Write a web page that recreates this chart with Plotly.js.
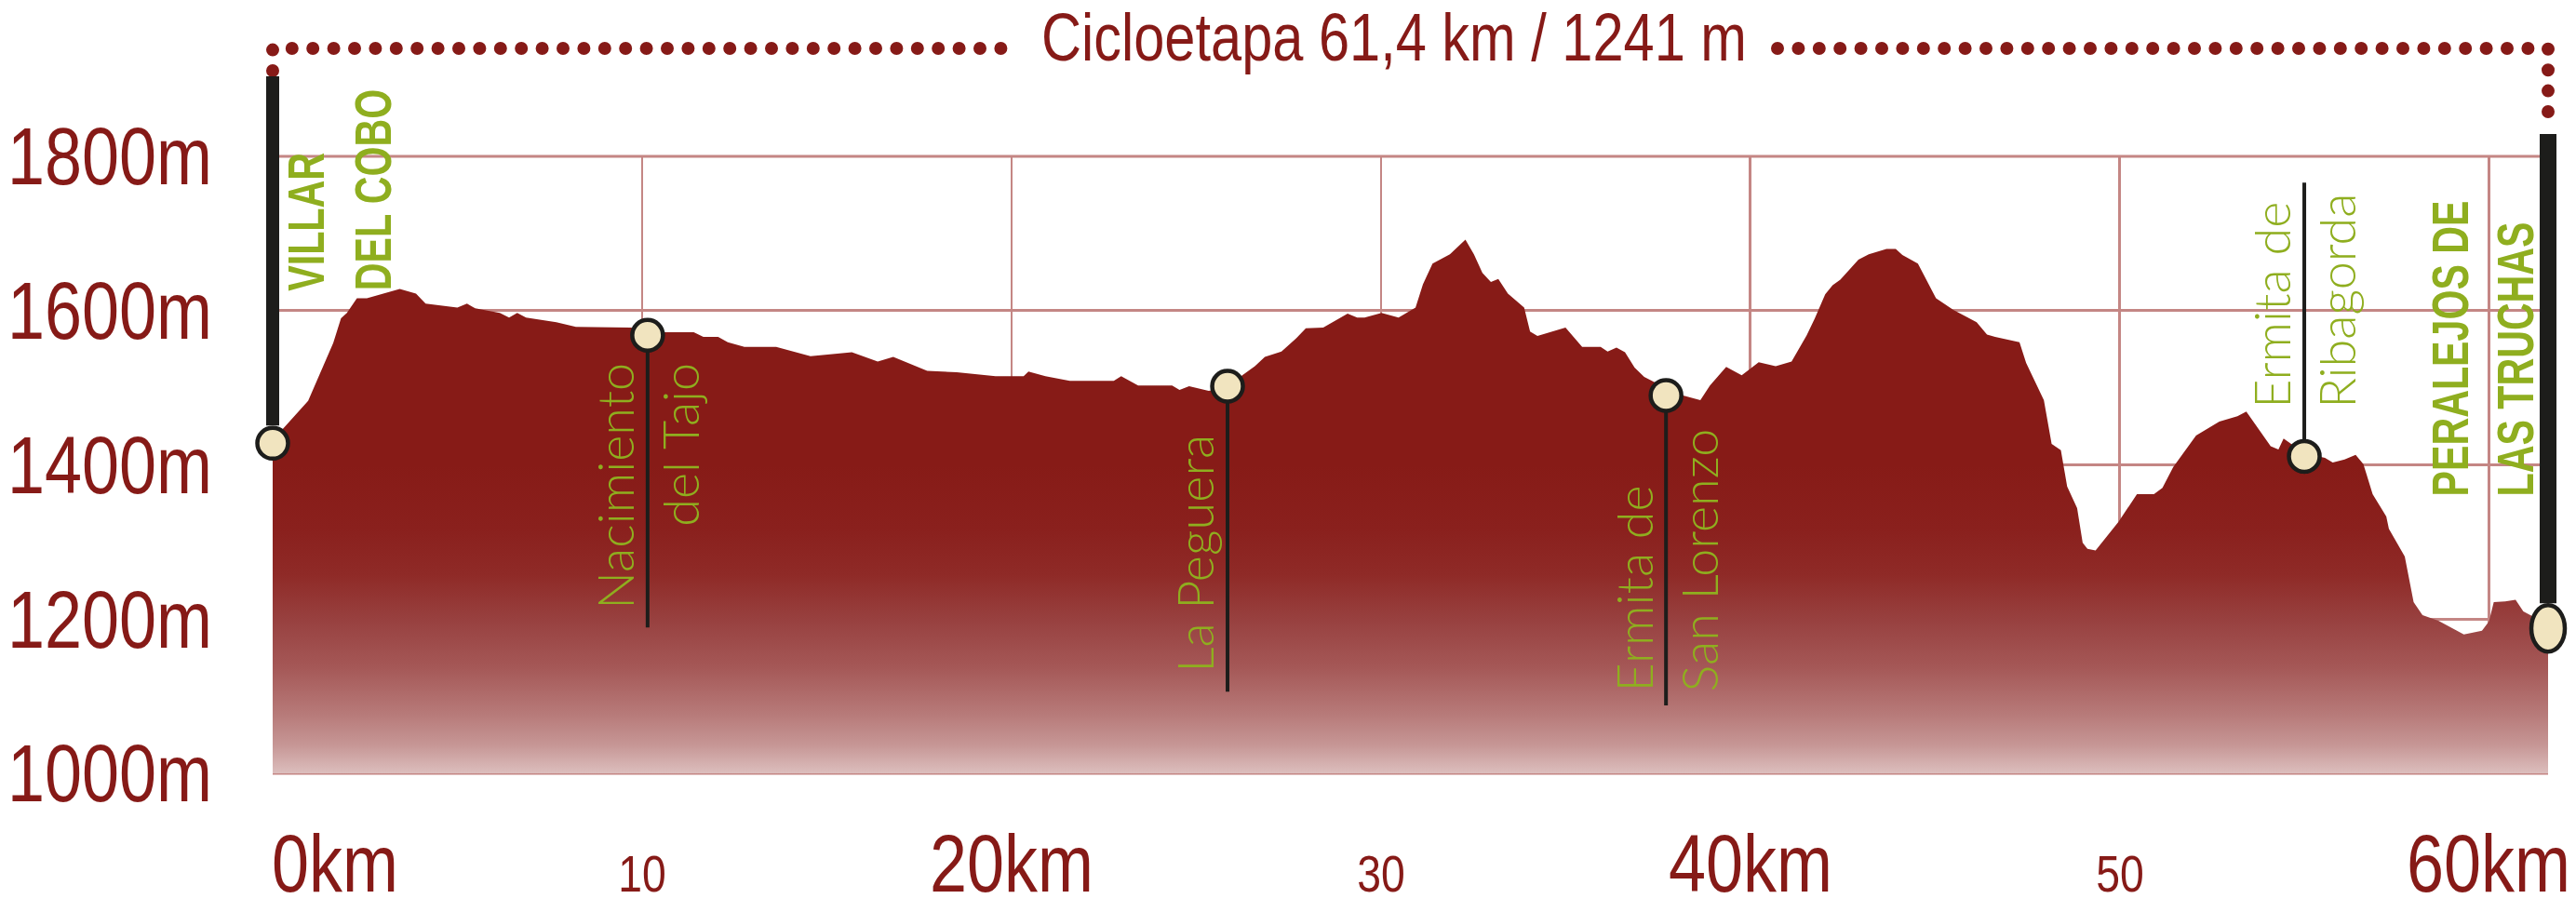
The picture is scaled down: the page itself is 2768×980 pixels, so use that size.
<!DOCTYPE html>
<html>
<head>
<meta charset="utf-8">
<script src="https://cdn.plot.ly/plotly-3.0.1.min.js"></script>
<style>
  html, body { margin: 0; padding: 0; background: #ffffff; }
  #chart { width: 2768px; height: 980px; }
</style>
</head>
<body>
<div id="chart"></div>
<script>
// ---------------- DATA ----------------
const distanceKm = [
  0, 0.96, 1.64, 1.85, 2.01, 2.28, 2.55, 3.44, 3.88, 4.14,
  5.0, 5.26, 5.48, 6.15, 6.4, 6.62, 6.86, 7.68, 8.21, 9.69,
  10.61, 11.4, 11.66, 12.06, 12.32, 12.77, 13.63, 14.56, 15.68, 16.38,
  16.8, 17.72, 18.52, 19.57, 20.33, 20.46, 20.92, 21.58, 22.77, 22.97,
  23.43, 24.35, 24.55, 24.81, 25.34, 25.85, 26.25, 26.59, 26.86, 27.31,
  27.71, 27.97, 28.44, 29.1, 29.36, 29.56, 30.02, 30.48, 30.94, 31.14,
  31.4, 31.87, 32.29, 32.52, 32.75, 32.98, 33.18, 33.44, 33.88, 34.04,
  34.24, 35.0, 35.45, 35.95, 36.14, 36.38, 36.61, 36.87, 37.13, 37.46,
  37.72, 38.19, 38.65, 38.91, 39.35, 39.77, 40.23, 40.69, 41.12, 41.53,
  41.75, 42.03, 42.23, 42.44, 42.93, 43.21, 43.69, 43.94, 44.12, 44.54,
  44.75, 45.03, 45.5, 46.13, 46.41, 46.63, 47.29, 47.47, 47.95, 48.16,
  48.41, 48.58, 48.85, 49.0, 49.13, 49.35, 49.97, 50.47, 50.93, 51.16,
  51.45, 51.79, 52.07, 52.7, 53.19, 53.43, 53.88, 54.09, 54.3, 54.44,
  55.0, 55.56, 55.77, 56.09, 56.39, 56.6, 56.85, 57.22, 57.29, 57.72,
  57.96, 58.2, 58.63, 59.32, 59.81, 60.0, 60.13, 60.44, 60.72, 60.93,
  61.12, 61.6
];
const elevationM = [
  1432, 1483, 1558, 1590, 1597, 1616, 1616, 1628, 1622, 1609,
  1604, 1609, 1603, 1597, 1591, 1597, 1591, 1585, 1579, 1578,
  1572, 1572, 1566, 1566, 1559, 1553, 1553, 1541, 1546, 1534,
  1540, 1522, 1520, 1515, 1515, 1521, 1515, 1509, 1509, 1515,
  1503, 1503, 1497, 1502, 1496, 1500, 1516, 1528, 1540, 1547,
  1564, 1577, 1578, 1596, 1591, 1591, 1597, 1591, 1604, 1634,
  1661, 1673, 1692, 1673, 1649, 1637, 1641, 1622, 1604, 1573,
  1567, 1578, 1553, 1553, 1547, 1552, 1546, 1526, 1514, 1506,
  1496, 1490, 1484, 1503, 1527, 1516, 1533, 1528, 1534, 1568,
  1590, 1621, 1633, 1640, 1666, 1673, 1680, 1680, 1672, 1661,
  1642, 1616, 1601, 1585, 1569, 1566, 1559, 1532, 1484, 1427,
  1419, 1372, 1344, 1299, 1291, 1289, 1326, 1362, 1362, 1370,
  1397, 1419, 1438, 1456, 1463, 1469, 1439, 1424, 1420, 1434,
  1415, 1409, 1403, 1407, 1413, 1401, 1362, 1333, 1317, 1281,
  1222, 1205, 1198, 1180, 1185, 1197, 1222, 1223, 1225, 1210,
  1205, 1195
];

const townNames = ['VILLAR<br>DEL COBO', 'PERALEJOS DE<br>LAS TRUCHAS'];
const townKm    = [0, 61.6];
const townElev  = [1428, 1188];

const stopNames = ['Nacimiento<br>del Tajo', 'La Peguera', 'Ermita de<br>San Lorenzo', 'Ermita de<br>Ribagorda'];
const stopKm    = [10.15, 25.85, 37.72, 55.0];
const stopElev  = [1568, 1502, 1490, 1411];

const yTickVals  = [1000, 1200, 1400, 1600, 1800];
const yTickText  = ['1000m', '1200m', '1400m', '1600m', '1800m'];
const xTickVals  = [0, 10, 20, 30, 40, 50, 60];
const xTickText  = ['0km', '10', '20km', '30', '40km', '50', '60km'];

const titleText = 'Cicloetapa 61,4 km / 1241 m';

// ---------------- STYLE / LAYOUT CONFIG ----------------
const RED = '#861a17';
const INK = '#1d1d1b';
const CREAM = '#f1e4bf';
const GREEN = '#8fae1f';
const GRID = '#c48684';
const SANS = '"Liberation Sans", Arial, Helvetica, sans-serif';
const LIGHT = 'Lato, "Open Sans", Roboto, sans-serif';
const CONDENSE = 0.827;       // Helvetica-Condensed look for axis/title text
const CONDENSE_BOLD = 0.735;  // for the bold town names

const W = 2768, H = 980;
const PLOT = { left: 293, right: 2738, top: 168, bottom: 831 };
const plotW = PLOT.right - PLOT.left;
const plotH = PLOT.bottom - PLOT.top;
const xRange = [0, 61.6];
const yRange = [1000, 1800];
const pxY = py => (PLOT.bottom - py) / plotH;          // pixel row -> paper y
const pxX = px => (px - PLOT.left) / plotW;            // pixel col -> paper x
const elevPaper = e => (e - yRange[0]) / (yRange[1] - yRange[0]);
const kmPaper = k => (k - xRange[0]) / (xRange[1] - xRange[0]);

// text width helper (for sizing boxes of condensed labels)
const measureCtx = document.createElement('canvas').getContext('2d');
function textWidth(txt, size, family, weight) {
  measureCtx.font = (weight || 400) + ' ' + size + 'px ' + family;
  return measureCtx.measureText(txt).width;
}

// label placement (layout, not data)
const stopLabelLayout = [
  { labelElev: 1373, align: 'right', pinTo: 1189, dx: 0 },
  { labelElev: 1285, align: 'right', pinTo: 1106, dx: -35 },
  { labelElev: 1276, align: 'left',  pinTo: 1088, dx: 0 },
  { labelElev: 1612, align: 'left',  pinTo: 1766, dx: 0 }
];
const townLabelLayout = [
  { startElev: 1623, lineDx: [36, 107] },
  { startElev: 1356, lineDx: [-106, -36] }
];

// ---------------- TRACES ----------------
const profile = {
  type: 'scatter', mode: 'lines',
  x: distanceKm, y: elevationM,
  fill: 'tozeroy',
  fillcolor: RED,
  fillgradient: {
    type: 'vertical',
    start: 1000, stop: 1400,
    colorscale: [
      [0.0, '#dcbebd'], [0.0925, '#c69695'], [0.1925, '#b77a79'],
      [0.3425, '#a55857'], [0.495, '#984140'], [0.645, '#8f2a27'],
      [0.795, '#8a201d'], [1.0, '#871b17']
    ]
  },
  line: { width: 0, color: RED },
  hoverinfo: 'skip'
};

const pinX = [], pinY = [];
stopKm.forEach((k, i) => {
  pinX.push(k, k, null);
  pinY.push(stopElev[i], stopLabelLayout[i].pinTo, null);
});
const pins = {
  type: 'scatter', mode: 'lines', x: pinX, y: pinY,
  line: { color: INK, width: 4 }, connectgaps: false, hoverinfo: 'skip'
};

const markers = {
  type: 'scatter', mode: 'markers',
  x: [townKm[0]].concat(stopKm),
  y: [townElev[0]].concat(stopElev),
  marker: { size: 33, color: CREAM, line: { color: INK, width: 4.5 } },
  cliponaxis: false, hoverinfo: 'skip'
};

// ---------------- ANNOTATIONS ----------------
const annotations = [];
const condenseIdx = [];   // [annotation index, factor]
stopNames.forEach((name, i) => {
  const L = stopLabelLayout[i];
  annotations.push({
    x: stopKm[i], y: L.labelElev, xref: 'x', yref: 'y',
    text: name, textangle: -90, showarrow: false,
    align: L.align, xanchor: 'center', yanchor: 'middle', xshift: L.dx,
    font: { family: LIGHT, size: 54, color: GREEN, weight: 300 }
  });
});
townNames.forEach((name, i) => {
  const L = townLabelLayout[i];
  name.split('<br>').forEach((line, j) => {
    condenseIdx.push([annotations.length, CONDENSE_BOLD]);
    annotations.push({
      x: townKm[i], y: L.startElev, xref: 'x', yref: 'y',
      text: line, textangle: -90, showarrow: false,
      align: 'left', xanchor: 'center', yanchor: 'bottom', xshift: L.lineDx[j],
      font: { family: SANS, size: 56, color: GREEN, weight: 700 }
    });
  });
});
const BIG = 87, SMALL = 56, BASELINE_PX = 959;
xTickVals.forEach((v, i) => {
  const t = xTickText[i];
  const size = t.endsWith('km') ? BIG : SMALL;
  const bottomPx = BASELINE_PX + 1 + 0.212 * size;
  condenseIdx.push([annotations.length, CONDENSE]);
  annotations.push({
    x: v, xref: 'x', y: pxY(bottomPx), yref: 'paper',
    text: t, showarrow: false,
    width: Math.ceil(textWidth(t, size, SANS) * CONDENSE) + 6,
    align: i === 0 ? 'left' : 'center',
    xanchor: i === 0 ? 'left' : 'center', yanchor: 'bottom',
    xshift: i === 0 ? -3 : 0,
    font: { family: SANS, size: size, color: RED }
  });
});

// ---------------- SHAPES ----------------
const dotLine = { color: RED, width: 14, dash: '0px,22.4px' };
const shapes = [
  // grid lines on the range edges (1800 m and 1000 m)
  { type: 'line', xref: 'paper', yref: 'paper', layer: 'below',
    x0: 0, x1: 1, y0: elevPaper(yTickVals[4]), y1: elevPaper(yTickVals[4]),
    line: { color: GRID, width: 3 } },
  { type: 'line', xref: 'paper', yref: 'paper', layer: 'below',
    x0: 0, x1: 1, y0: elevPaper(yTickVals[0]), y1: elevPaper(yTickVals[0]),
    line: { color: GRID, width: 3 } },
  // dotted frame around the title
  { type: 'path', xref: 'paper', yref: 'paper', layer: 'above',
    path: `M ${kmPaper(townKm[0])},${pxY(76)} L ${kmPaper(townKm[0])},${pxY(52)} L ${pxX(1085)},${pxY(52)}`,
    line: dotLine },
  { type: 'path', xref: 'paper', yref: 'paper', layer: 'above',
    path: `M ${pxX(1910)},${pxY(52)} L ${kmPaper(townKm[1])},${pxY(52)} L ${kmPaper(townKm[1])},${pxY(132)}`,
    line: dotLine },
  // start / finish poles
  { type: 'line', xref: 'paper', yref: 'paper', layer: 'above',
    x0: kmPaper(townKm[0]), x1: kmPaper(townKm[0]),
    y0: elevPaper(townElev[0]) + 19 / plotH, y1: pxY(82),
    line: { color: INK, width: 14 } },
  { type: 'line', xref: 'paper', yref: 'paper', layer: 'above',
    x0: kmPaper(townKm[1]), x1: kmPaper(townKm[1]),
    y0: elevPaper(townElev[1]) + 27 / plotH, y1: pxY(144),
    line: { color: INK, width: 18 } },
  { type: 'circle', xref: 'paper', yref: 'paper', layer: 'above',
    xsizemode: 'pixel', ysizemode: 'pixel',
    xanchor: kmPaper(townKm[1]), yanchor: elevPaper(townElev[1]),
    x0: -18, x1: 18, y0: -25, y1: 25,
    fillcolor: CREAM, line: { color: INK, width: 4.5 } }
];

// ---------------- LAYOUT ----------------
const layout = {
  width: W, height: H,
  margin: { l: PLOT.left, r: W - PLOT.right, t: PLOT.top, b: H - PLOT.bottom, pad: 0 },
  paper_bgcolor: '#ffffff', plot_bgcolor: '#ffffff',
  showlegend: false, hovermode: false,
  title: {
    text: titleText,
    font: { family: SANS, size: 72, color: RED },
    x: 1498 / W, xanchor: 'center', xref: 'container',
    y: 1 - 15 / H, yanchor: 'top', yref: 'container'
  },
  xaxis: {
    range: xRange, tickvals: xTickVals.slice(1), showticklabels: false,
    showgrid: true, gridcolor: GRID, gridwidth: 2.5,
    zeroline: false, showline: false, ticks: '', fixedrange: true
  },
  yaxis: {
    range: yRange, tickvals: yTickVals, ticktext: yTickText,
    tickfont: { family: SANS, size: 87, color: RED },
    ticklabelstandoff: 64,
    showgrid: true, gridcolor: GRID, gridwidth: 3,
    zeroline: false, showline: false, ticks: '', fixedrange: true
  },
  annotations: annotations,
  shapes: shapes
};

function condense(el, k) {
  if (!el || !el.getComputedTextLength) return;
  const len = el.getComputedTextLength();
  if (len > 0) {
    el.setAttribute('textLength', (len * k).toFixed(2));
    el.setAttribute('lengthAdjust', 'spacingAndGlyphs');
  }
}

Plotly.newPlot('chart', [profile, pins, markers], layout, { staticPlot: true, displayModeBar: false })
  .then(gd => {
    // round dots for the dotted frame
    gd.querySelectorAll('.shapelayer path').forEach(p => {
      const da = p.style.strokeDasharray;
      if (da && da !== 'none' && da !== '') { p.style.strokeLinecap = 'round'; }
    });
    // condensed type for axis labels, title and town names
    gd.querySelectorAll('.ytick text').forEach(t => condense(t, CONDENSE));
    gd.querySelectorAll('.gtitle').forEach(t => condense(t, CONDENSE));
    condenseIdx.forEach(([idx, k]) => {
      const g = gd.querySelector('.annotation[data-index="' + idx + '"] text.annotation-text');
      condense(g, k);
    });
  });
</script>
</body>
</html>
